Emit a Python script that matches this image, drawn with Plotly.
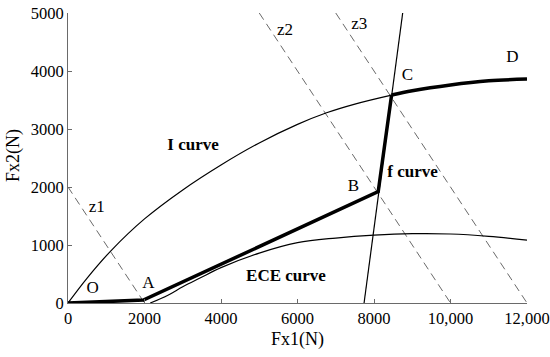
import plotly.graph_objects as go

# I curve (ideal braking force distribution)
i_x = [0, 500, 1140, 2000, 3000, 4000, 5000, 6000, 6760, 7500, 8460, 9000, 10000, 11000, 12000]
i_y = [0, 430, 913, 1450, 1950, 2380, 2760, 3080, 3280, 3430, 3585, 3660, 3760, 3830, 3860]

# ECE regulation curve
ece_x = [2150, 2600, 3000, 3450, 4000, 5000, 6000, 7000, 8000, 9000, 10000, 11000, 12000]
ece_y = [0, 130, 280, 430, 610, 860, 1040, 1120, 1170, 1195, 1190, 1150, 1085]

# f curve (straight line)
f_x = [7740, 8750]
f_y = [0, 5000]

# actual distribution O-A-B-C then along I curve to D
path_x = [0, 1970, 8110]
path_y = [0, 50, 1920]
c_x, c_y = 8460, 3585

# z lines (constant total braking force)
z_lines = {
    "z1": ([0, 2000], [2000, 0]),
    "z2": ([5000, 10000], [5000, 0]),
    "z3": ([7000, 12000], [5000, 0]),
}

# point / curve labels
lab_text = ["O", "A", "B", "C", "D", "z1", "z2", "z3"]
lab_x = [645, 2100, 7460, 8871, 11616, 750, 5673, 7616]
lab_y = [249, 324, 1998, 3914, 4233, 1640, 4693, 4792]

bold_text = ["I curve", "f curve", "ECE curve"]
bold_x = [3268, 9007, 5699]
bold_y = [2703, 2238, 450]

x_ticks = [0, 2000, 4000, 6000, 8000, 10000, 12000]
x_tick_labels = ["0", "2000", "4000", "6000", "8000", "10,000", "12,000"]
y_ticks = [0, 1000, 2000, 3000, 4000, 5000]

FONT = "Liberation Serif, Times New Roman, serif"

fig = go.Figure()

for name, (zx, zy) in z_lines.items():
    fig.add_trace(go.Scatter(x=zx, y=zy, mode="lines", cliponaxis=False,
                             line=dict(color="#6a6a6a", width=1, dash="8px,5px"),
                             showlegend=False, hoverinfo="skip"))

fig.add_trace(go.Scatter(x=i_x, y=i_y, mode="lines", line=dict(color="black", width=1.2, shape="spline"),
                         cliponaxis=False, showlegend=False))
fig.add_trace(go.Scatter(x=ece_x, y=ece_y, mode="lines", line=dict(color="black", width=1.2, shape="spline"),
                         cliponaxis=False, showlegend=False))
fig.add_trace(go.Scatter(x=f_x, y=f_y, mode="lines", line=dict(color="black", width=1.2),
                         cliponaxis=False, showlegend=False))

# thick path: O-A-B-C straight, then C-D along the I curve
fig.add_trace(go.Scatter(x=path_x + [c_x], y=path_y + [c_y], mode="lines",
                         line=dict(color="black", width=3.5), cliponaxis=False, showlegend=False))
cd_x = [c_x] + [x for x in i_x if x > c_x]
cd_y = [c_y] + [y for x, y in zip(i_x, i_y) if x > c_x]
fig.add_trace(go.Scatter(x=cd_x, y=cd_y, mode="lines",
                         line=dict(color="black", width=3.5, shape="spline"), cliponaxis=False, showlegend=False))

fig.add_trace(go.Scatter(x=lab_x, y=lab_y, mode="text", text=lab_text,
                         textfont=dict(family=FONT, size=17, color="black"),
                         cliponaxis=False, showlegend=False))
fig.add_trace(go.Scatter(x=bold_x, y=bold_y, mode="text",
                         text=["<b>" + t + "</b>" for t in bold_text],
                         textfont=dict(family=FONT, size=17, color="black"),
                         cliponaxis=False, showlegend=False))

axis_common = dict(showgrid=False, zeroline=False, showline=True, linecolor="#6a6a6a", linewidth=1,
                   ticks="inside", ticklen=4, tickcolor="#6a6a6a", automargin=False,
                   ticklabeloverflow="allow",
                   tickfont=dict(family=FONT, size=16.5, color="black"))

fig.update_layout(
    width=550, height=357,
    margin=dict(l=68, r=23, t=13, b=54),
    paper_bgcolor="white", plot_bgcolor="white",
    xaxis=dict(range=[0, 12000], tickvals=x_ticks, ticktext=x_tick_labels,
               title=dict(text="Fx1(N)", font=dict(family=FONT, size=18, color="black"), standoff=5),
               **axis_common),
    yaxis=dict(range=[0, 5000], tickvals=y_ticks, **axis_common),
    annotations=[dict(text="Fx2(N)", xref="paper", yref="paper", x=-0.12, y=0.51,
                      xanchor="center", yanchor="middle", textangle=-90, showarrow=False,
                      font=dict(family=FONT, size=18, color="black"))],
)

# remove the browser's default page margin so the figure fills the window exactly
fig.write_html("out.html", config={"displayModeBar": False},
               post_script="document.body.style.margin='0px';")
